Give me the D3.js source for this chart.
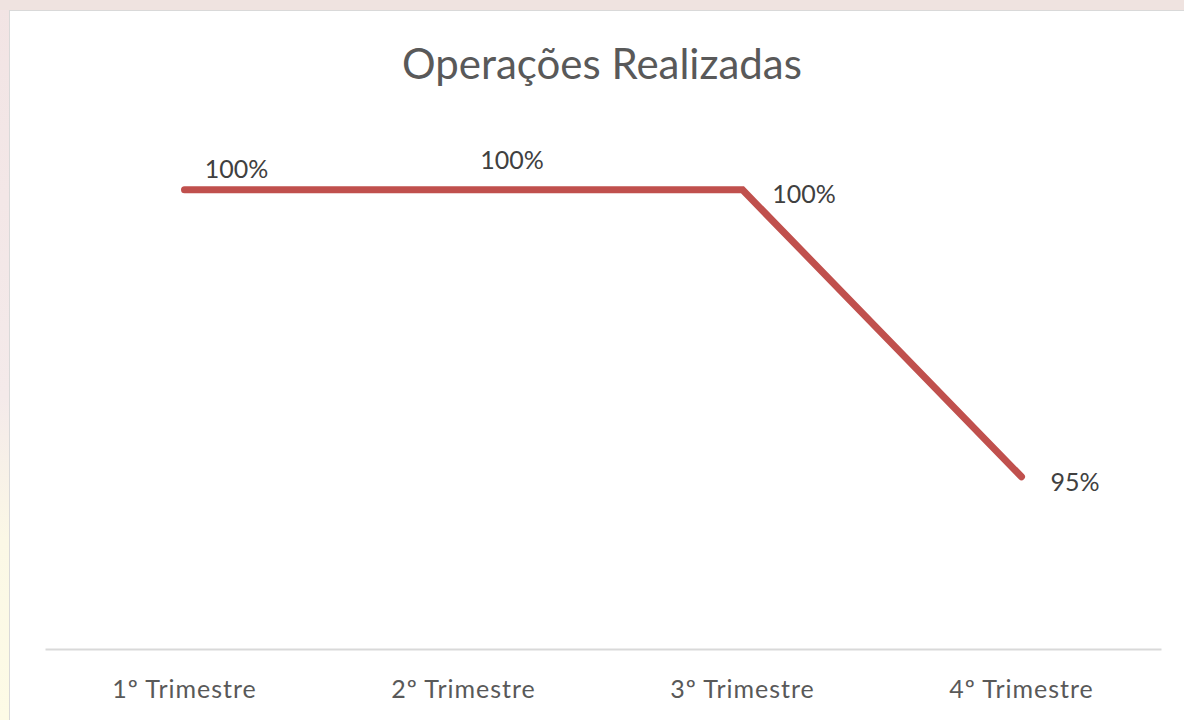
<!DOCTYPE html>
<html>
<head>
<meta charset="utf-8">
<script src="https://cdn.jsdelivr.net/npm/d3@7"></script>
<style>
  html, body { margin: 0; padding: 0; }
  body { width: 1184px; height: 720px; overflow: hidden;
    background: linear-gradient(180deg, #f2e4e4 0%, #f4eaea 55%, #fbf8e6 75%, #fdfbe6 100%); }
  svg { display: block; }
</style>
</head>
<body>
<svg id="chart" width="1184" height="720"></svg>
<script>
const categories = ["1º Trimestre", "2º Trimestre", "3º Trimestre", "4º Trimestre"];
const values = [1.00, 1.00, 1.00, 0.95];
const valueLabels = ["100%", "100%", "100%", "95%"];
const chartTitle = "Operações Realizadas";
const yDomain = [0.92, 1.02];

// label placement offsets from each point (layout, not data): [dx centre, dy baseline]
const labelOffsets = [[52, -12], [48.5, -21], [61.5, 13], [53.5, 14]];

const W = 1184, H = 720;
const svg = d3.select("#chart");
const font = "Lato, 'Open Sans', sans-serif";

// top strip tint
svg.append("rect").attr("x", 0).attr("y", 0).attr("width", W).attr("height", 10)
  .attr("fill", "#efe3e0");
svg.append("rect").attr("x", 9.5).attr("y", 10.5).attr("width", W).attr("height", H)
  .attr("fill", "#ffffff").attr("stroke", "#d9d9d9").attr("stroke-width", 1);

const plot = { left: 45, right: 1161, top: 75, bottom: 649 };

const x = d3.scaleBand().domain(categories).range([plot.left, plot.right]).padding(0);
const y = d3.scaleLinear().domain(yDomain).range([plot.bottom, plot.top]);

// title
svg.append("text").attr("x", 602).attr("y", 79)
  .attr("text-anchor", "middle").attr("font-family", font).attr("font-size", 42)
  .attr("fill", "#595959").text(chartTitle);

// x axis
const xAxis = d3.axisBottom(x).tickSize(0).tickPadding(31);
const gx = svg.append("g").attr("transform", `translate(0,${plot.bottom})`).call(xAxis);
gx.select(".domain").attr("stroke", "#d9d9d9").attr("stroke-width", 2);
gx.selectAll("text").attr("font-family", font).attr("font-size", 25)
  .attr("letter-spacing", "1px").attr("fill", "#595959");

// line
const line = d3.line().x((d, i) => x(categories[i]) + x.bandwidth() / 2).y(d => y(d));
svg.append("path").datum(values).attr("d", line)
  .attr("fill", "none").attr("stroke", "#c0504d").attr("stroke-width", 7)
  .attr("stroke-linecap", "round").attr("stroke-linejoin", "miter");

// data labels
svg.append("g").selectAll("text").data(values).join("text")
  .attr("x", (d, i) => x(categories[i]) + x.bandwidth() / 2 + labelOffsets[i][0])
  .attr("y", (d, i) => y(d) + labelOffsets[i][1])
  .attr("text-anchor", "middle").attr("font-family", font).attr("font-size", 25)
  .attr("fill", "#404040").text((d, i) => valueLabels[i]);
</script>
</body>
</html>
